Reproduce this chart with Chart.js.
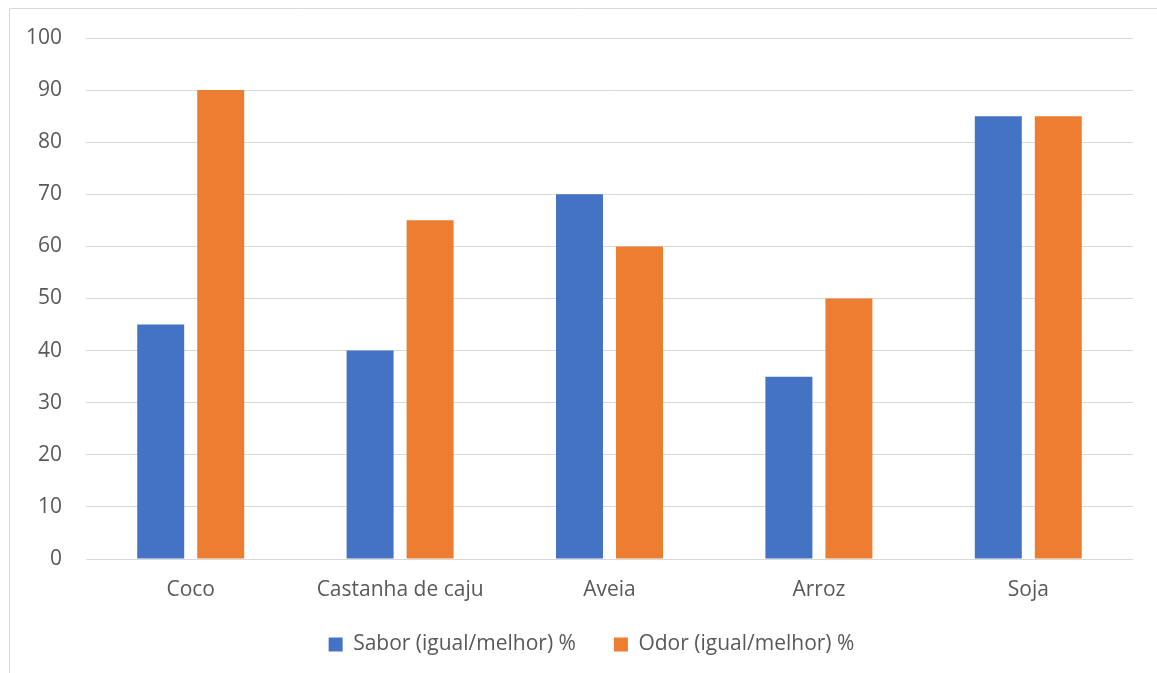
<!DOCTYPE html>
<html>
<head>
<meta charset="utf-8">
<script src="https://cdn.jsdelivr.net/npm/chart.js@4"></script>
<style>
  html, body { margin: 0; padding: 0; background: #ffffff; }
  #wrap { position: relative; width: 1157px; height: 673px; }
  canvas { display: block; }
</style>
</head>
<body>
<div id="wrap"><canvas id="chart" width="1157" height="673"></canvas></div>
<script>
// Categories and series values
const categories = ['Coco', 'Castanha de caju', 'Aveia', 'Arroz', 'Soja'];
const sabor = [45, 40, 70, 35, 85];
const odor = [90, 65, 60, 50, 85];
const seriesNames = ['Sabor (igual/melhor) %', 'Odor (igual/melhor) %'];
const yTicks = [0, 10, 20, 30, 40, 50, 60, 70, 80, 90, 100];

const textColor = '#595959';
const gridColor = '#d9d9d9';
const fontFamily = '"Open Sans", "Liberation Sans", sans-serif';
const fontSize = 21;

// Frame line along the top and left edges of the chart area
const framePlugin = {
  id: 'frame',
  beforeDraw(chart) {
    const ctx = chart.ctx;
    ctx.save();
    ctx.strokeStyle = gridColor;
    ctx.lineWidth = 1;
    ctx.beginPath();
    ctx.moveTo(9.5, chart.height);
    ctx.lineTo(9.5, 8.5);
    ctx.lineTo(chart.width, 8.5);
    ctx.stroke();
    ctx.restore();
  }
};

// Move the legend row a little right of centre and up towards the axis labels
const legendShift = {
  id: 'legendShift',
  afterLayout(chart) {
    const lg = chart.legend;
    if (lg) {
      lg.left += 20; lg.right += 20;
      lg.top -= 8; lg.bottom -= 8;
    }
  }
};

new Chart(document.getElementById('chart'), {
  type: 'bar',
  data: {
    labels: categories,
    datasets: [
      { label: seriesNames[0], data: sabor, backgroundColor: '#4472C4', categoryPercentage: 0.573, barPercentage: 0.783 },
      { label: seriesNames[1], data: odor, backgroundColor: '#ED7D31', categoryPercentage: 0.573, barPercentage: 0.783 }
    ]
  },
  options: {
    responsive: false,
    animation: false,
    devicePixelRatio: 1,
    layout: { padding: { left: 10, right: 24, top: 38, bottom: 0 } },
    plugins: {
      tooltip: { enabled: false },
      legend: {
        position: 'bottom',
        labels: {
          color: textColor,
          font: { family: fontFamily, size: fontSize },
          boxWidth: 14,
          boxHeight: 14,
          padding: 38
        }
      }
    },
    scales: {
      x: {
        grid: { display: false },
        border: { display: false },
        ticks: { color: textColor, font: { family: fontFamily, size: fontSize }, padding: 10, maxRotation: 0 },
        afterFit(scale) { scale.height = 45; }
      },
      y: {
        min: 0,
        max: 100,
        afterBuildTicks(scale) { scale.ticks = yTicks.map(v => ({ value: v })); },
        grid: { color: gridColor, lineWidth: 1, drawTicks: false },
        border: { display: false },
        ticks: { color: textColor, font: { family: fontFamily, size: fontSize }, padding: 24 },
        afterFit(scale) { scale.width = 76; }
      }
    }
  },
  plugins: [framePlugin, legendShift]
});
</script>
</body>
</html>
